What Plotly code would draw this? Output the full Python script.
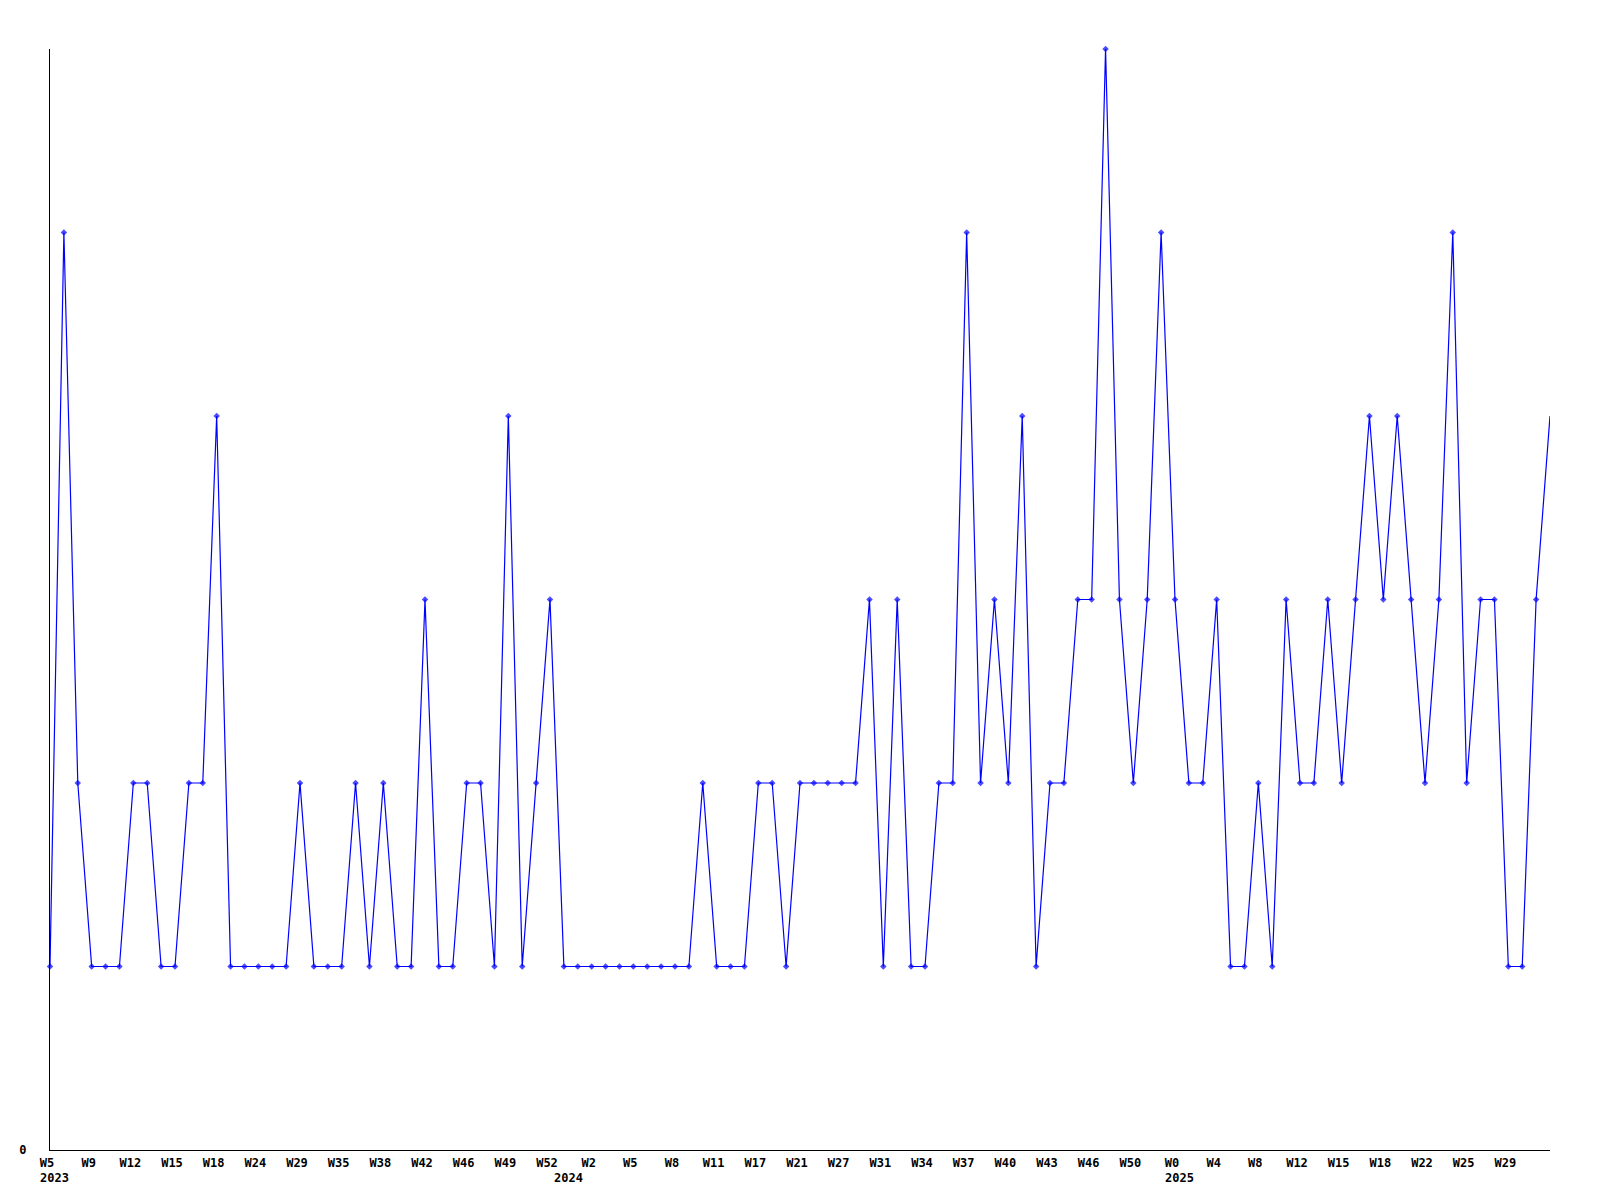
import plotly.graph_objects as go

# ---- data ----
weeks_2023 = [5, 6, 7, 9, 10, 11, 12, 13, 14, 15, 16, 17, 18, 20, 22, 24, 26, 27, 29, 31,
              33, 35, 36, 37, 38, 39, 40, 42, 43, 45, 46, 47, 48, 49, 50, 51, 52]
weeks_2024 = [0, 1, 2, 3, 4, 5, 6, 7, 8, 9, 10, 11, 13, 15, 17, 19, 20, 21, 23, 25, 27, 28,
              30, 31, 32, 33, 34, 35, 36, 37, 38, 39, 40, 41, 42, 43, 44, 45, 46, 47, 48, 50, 51, 52]
weeks_2025 = [0, 2, 3, 4, 6, 7, 8, 9, 10, 12, 13, 14, 15, 16, 17, 18, 20, 21, 22, 23, 24, 25,
              26, 27, 29, 30, 31, 32]

values = [1, 5, 2, 1, 1, 1, 2, 2, 1, 1, 2, 2, 4,
          1, 1, 1, 1, 1, 2, 1, 1, 1, 2, 1, 2, 1,
          1, 3, 1, 1, 2, 2, 1, 4, 1, 2, 3,
          1, 1, 1, 1, 1, 1, 1, 1, 1, 1,
          2, 1, 1, 1, 2, 2, 1, 2, 2, 2, 2, 2,
          3, 1, 3, 1, 1, 2, 2, 5, 2, 3, 2, 4, 1, 2, 2, 3, 3, 6, 3, 2,
          3, 5, 3, 2, 2, 3, 1, 1, 2, 1, 3, 2, 2, 3, 2, 3, 4, 3, 4, 3, 2, 3, 5, 2, 3, 3, 1, 1, 3, 4]

years = ["2023", "2024", "2025"]
year_weeks = [weeks_2023, weeks_2024, weeks_2025]

categories = []
week_labels = []
year_of = []
for yr, wl in zip(years, year_weeks):
    for w in wl:
        categories.append(f"{yr}-W{w:02d}")
        week_labels.append(f"W{w}")
        year_of.append(yr)

n = len(categories)
tick_step = 3
tickvals = categories[:n - 1:tick_step]
ticktext = [f"<b>{t}</b>" for t in week_labels[:n - 1:tick_step]]

FONT = "DejaVu Sans Mono"
BLUE = "#0000ff"

marker_sizes = [5] * (n - 1) + [0]

fig = go.Figure()
fig.add_trace(go.Scatter(
    x=categories, y=values, mode="lines+markers",
    line=dict(color=BLUE, width=1.2),
    marker=dict(symbol="diamond", size=marker_sizes, color=BLUE, line=dict(width=0)),
    cliponaxis=False, showlegend=False,
))

# year labels at the first point of each year
annotations = []
prev = None
for i, yr in enumerate(year_of):
    if yr != prev:
        annotations.append(dict(
            x=categories[i], xref="x", y=0, yref="paper",
            text=f"<b>{yr}</b>", showarrow=False,
            xanchor="left", yanchor="top", xshift=-12, yshift=-19,
            font=dict(family=FONT, size=12, color="black"),
        ))
        prev = yr

# page body adds 8px offset; margins compensate
fig.update_layout(
    width=1600, height=1200,
    margin=dict(l=42, r=58, t=41, b=58, autoexpand=False),
    paper_bgcolor="white", plot_bgcolor="white",
    annotations=annotations,
    font=dict(family=FONT, size=12, color="black"),
)
fig.update_xaxes(
    type="category", categoryorder="array", categoryarray=categories,
    range=[0, n - 1], showgrid=False, zeroline=False, automargin=False,
    showline=True, linecolor="black", linewidth=1,
    tickmode="array", tickvals=tickvals, ticktext=ticktext,
    ticks="", ticklabelshift=-3, ticklabelstandoff=2,
    tickfont=dict(family=FONT, size=12, color="black"),
)
fig.update_yaxes(
    range=[0, 6], showgrid=False, zeroline=False, automargin=False,
    showline=True, linecolor="black", linewidth=1,
    tickmode="array", tickvals=[0], ticktext=["<b>0</b>"],
    ticks="", ticklabelstandoff=20,
    tickfont=dict(family=FONT, size=12, color="black"),
)

fig.write_html("out.html")
